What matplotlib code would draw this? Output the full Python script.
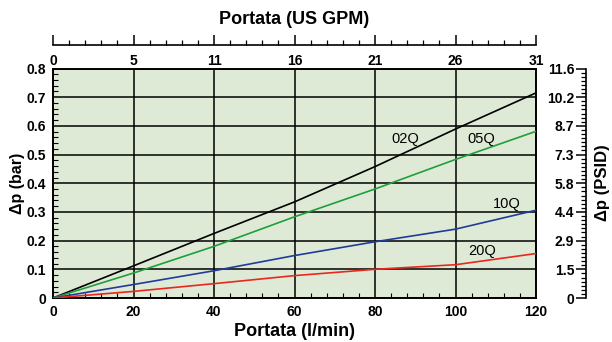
import matplotlib
matplotlib.use("Agg")
import matplotlib.pyplot as plt
from matplotlib.ticker import MultipleLocator, AutoMinorLocator, FixedLocator

plt.rcParams['font.family'] = ['Liberation Sans', 'DejaVu Sans']

# flow rate (l/min) and pressure drop (bar) per element
flow = [0, 20, 40, 60, 80, 100, 120]
dp_02q = [0, 0.112, 0.225, 0.335, 0.458, 0.589, 0.715]
dp_05q = [0, 0.087, 0.180, 0.283, 0.380, 0.483, 0.581]
dp_10q = [0, 0.047, 0.095, 0.148, 0.196, 0.240, 0.306]
dp_20q = [0, 0.023, 0.050, 0.078, 0.100, 0.116, 0.155]

series_names = ['02Q', '05Q', '10Q', '20Q']
series_colors = ['#000000', '#1f9e3c', '#1f3c9c', '#e8281e']

gpm_labels = ['0', '5', '11', '16', '21', '26', '31']
psi_labels = ['0', '1.5', '2.9', '4.4', '5.8', '7.3', '8.7', '10.2', '11.6']

W, H = 612, 342
fig = plt.figure(figsize=(W / 100, H / 100), dpi=100)

x0, x1 = 53, 536
y_top, y_bot = 68.5, 298
ax = fig.add_axes([x0 / W, 1 - y_bot / H, (x1 - x0) / W, (y_bot - y_top) / H])
ax.set_facecolor('#dfead6')

for vals, name, col in zip([dp_02q, dp_05q, dp_10q, dp_20q], series_names, series_colors):
    ax.plot(flow, vals, color=col, lw=1.2, label=name, zorder=3)

ax.set_xlim(0, 120)
ax.set_ylim(0, 0.8)
ax.xaxis.set_major_locator(MultipleLocator(20))
ax.xaxis.set_minor_locator(MultipleLocator(4))
ax.yaxis.set_major_locator(MultipleLocator(0.1))
ax.yaxis.set_minor_locator(MultipleLocator(0.02))
ax.grid(True, which='major', color='black', lw=1.1, zorder=1)
ax.set_axisbelow(True)
ax.tick_params(which='major', length=0, pad=5, labelsize=10)
ax.tick_params(which='minor', direction='in', length=3.5, width=0.8)
ax.tick_params(which='both', top=False, right=False)
ax.set_yticks([i / 10 for i in range(9)])
ax.set_yticklabels(['0'] + ['0.%d' % i for i in range(1, 9)])
ax.set_xticks(flow)
ax.set_xticklabels([str(v) for v in flow])
for lab in ax.get_xticklabels() + ax.get_yticklabels():
    lab.set_fontweight('bold')
for sp in ax.spines.values():
    sp.set_linewidth(1.4)

ax.set_xlabel('Portata (l/min)', fontsize=13, fontweight='bold', labelpad=3)
ax.set_ylabel('\u0394p (bar)', fontsize=11.5, fontweight='bold', labelpad=1)

# curve labels
ax.text(87.5, 0.554, '02Q', fontsize=10.5, ha='center', va='center')
ax.text(106.3, 0.554, '05Q', fontsize=10.5, ha='center', va='center')
ax.text(112.7, 0.328, '10Q', fontsize=10.5, ha='center', va='center')
ax.text(106.7, 0.165, '20Q', fontsize=10.5, ha='center', va='center')

# top axis: US GPM, separate line above the plot
yl = 45
axt = fig.add_axes([x0 / W, 1 - yl / H, (x1 - x0) / W, 0.0001])
axt.set_xlim(0, 120)
axt.patch.set_visible(False)
for k in ['top', 'left', 'right']:
    axt.spines[k].set_visible(False)
axt.spines['bottom'].set_linewidth(1.2)
axt.set_yticks([])
axt.xaxis.set_major_locator(FixedLocator(flow))
axt.xaxis.set_minor_locator(MultipleLocator(4))
axt.set_xticklabels(gpm_labels)
axt.tick_params(axis='x', which='major', direction='in', length=7, width=1.1, pad=6.5, labelsize=10)
axt.tick_params(axis='x', which='minor', direction='in', length=3.5, width=0.9)
for lab in axt.get_xticklabels():
    lab.set_fontweight('bold')
fig.text((x0 + x1) / 2 / W, 1 - 20 / H, 'Portata (US GPM)', fontsize=13,
         fontweight='bold', ha='center', va='center')

# right axis: PSID, separate line right of the plot
xr = 586
axr = fig.add_axes([xr / W, 1 - y_bot / H, 0.0001, (y_bot - y_top) / H])
axr.set_ylim(0, 0.8)
axr.patch.set_visible(False)
for k in ['top', 'bottom', 'right']:
    axr.spines[k].set_visible(False)
axr.spines['left'].set_linewidth(1.2)
axr.set_xticks([])
axr.yaxis.set_major_locator(FixedLocator([i / 10 for i in range(9)]))
axr.yaxis.set_minor_locator(AutoMinorLocator(7))
axr.set_yticklabels(psi_labels)
axr.tick_params(axis='y', which='major', direction='out', length=7, width=1.1, pad=1.5, labelsize=10)
axr.tick_params(axis='y', which='minor', direction='out', length=3.5, width=0.9)
for lab in axr.get_yticklabels():
    lab.set_fontweight('bold')
fig.text(602 / W, 1 - 183 / H, '\u0394p (PSID)', fontsize=12, fontweight='bold',
         rotation=90, ha='center', va='center')

fig.savefig('out.png', dpi=100)
